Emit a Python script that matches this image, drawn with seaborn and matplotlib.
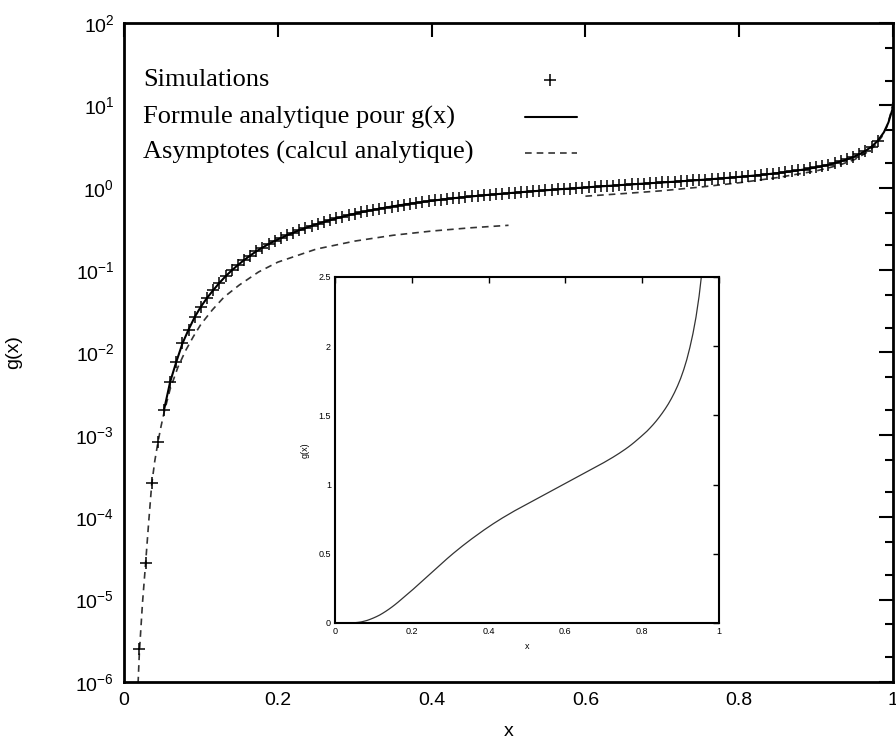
import numpy as np
import pandas as pd
import matplotlib
matplotlib.use("Agg")
import matplotlib.pyplot as plt
import seaborn as sns
from matplotlib.ticker import LogLocator, FixedLocator, NullFormatter

# ---------------- data ----------------
sim_x = [0.020, 0.028, 0.036, 0.044, 0.052, 0.060, 0.068, 0.076, 0.084, 0.092,
         0.100, 0.108, 0.116, 0.124, 0.132, 0.140, 0.148, 0.156, 0.164, 0.172,
         0.180, 0.188, 0.196, 0.204, 0.212, 0.220, 0.228, 0.236, 0.244, 0.252,
         0.260, 0.268, 0.276, 0.284, 0.292, 0.300, 0.308, 0.316, 0.324, 0.332,
         0.340, 0.348, 0.356, 0.364, 0.372, 0.380, 0.388, 0.396, 0.404, 0.412,
         0.420, 0.428, 0.436, 0.444, 0.452, 0.460, 0.468, 0.476, 0.484, 0.492,
         0.500, 0.508, 0.516, 0.524, 0.532, 0.540, 0.548, 0.556, 0.564, 0.572,
         0.580, 0.588, 0.596, 0.604, 0.612, 0.620, 0.628, 0.636, 0.644, 0.652,
         0.660, 0.668, 0.676, 0.684, 0.692, 0.700, 0.708, 0.716, 0.724, 0.732,
         0.740, 0.748, 0.756, 0.764, 0.772, 0.780, 0.788, 0.796, 0.804, 0.812,
         0.820, 0.828, 0.836, 0.844, 0.852, 0.860, 0.868, 0.876, 0.884, 0.892,
         0.900, 0.908, 0.916, 0.924, 0.932, 0.940, 0.948, 0.956, 0.964, 0.972,
         0.980]
sim_y = [2.5e-6, 2.8e-5, 2.6e-4, 8.2e-4, 2.0e-3, 4.4e-3, 7.7e-3, 1.29e-2, 1.9e-2, 2.7e-2,
         3.6e-2, 4.6e-2, 5.7e-2, 7.0e-2, 8.4e-2, 0.099, 0.115, 0.132, 0.150, 0.169,
         0.188, 0.207, 0.226, 0.245, 0.265, 0.285, 0.305, 0.325, 0.345, 0.365,
         0.385, 0.405, 0.425, 0.445, 0.465, 0.484, 0.503, 0.521, 0.539, 0.557,
         0.574, 0.591, 0.608, 0.624, 0.640, 0.656, 0.672, 0.687, 0.702, 0.717,
         0.731, 0.745, 0.759, 0.772, 0.785, 0.798, 0.811, 0.823, 0.835, 0.847,
         0.859, 0.871, 0.883, 0.895, 0.907, 0.919, 0.931, 0.943, 0.955, 0.967,
         0.979, 0.991, 1.003, 1.015, 1.027, 1.039, 1.051, 1.063, 1.075, 1.087,
         1.099, 1.111, 1.123, 1.135, 1.147, 1.159, 1.172, 1.185, 1.198, 1.212,
         1.226, 1.241, 1.256, 1.272, 1.289, 1.307, 1.326, 1.345, 1.365, 1.385,
         1.408, 1.432, 1.458, 1.486, 1.516, 1.548, 1.583, 1.622, 1.665, 1.713,
         1.767, 1.830, 1.903, 1.990, 2.090, 2.210, 2.360, 2.550, 2.800, 3.150,
         3.700]

# analytic formula: drawn from x ~ 0.05 on, continued up to x = 1
curve_start = 4
curve_tail_x = [0.988, 0.994, 1.000]
curve_tail_y = [4.7, 6.2, 9.5]

# asymptote for small x
asym1_x = [0.017, 0.020, 0.024, 0.028, 0.032, 0.036, 0.040, 0.044, 0.048, 0.052,
           0.060, 0.070, 0.080, 0.090, 0.100, 0.115, 0.130, 0.150, 0.175, 0.200,
           0.250, 0.300, 0.350, 0.400, 0.450, 0.500]
asym1_y = [5e-7, 2.3e-6, 9e-6, 2.7e-5, 8.5e-5, 2.5e-4, 4.8e-4, 8.0e-4, 1.25e-3, 1.85e-3,
           3.6e-3, 6.6e-3, 1.05e-2, 1.55e-2, 2.2e-2, 3.3e-2, 4.7e-2, 6.6e-2, 9.5e-2, 0.125,
           0.180, 0.225, 0.265, 0.298, 0.326, 0.350]

# asymptote for x close to 1
asym2_x = [0.600, 0.650, 0.700, 0.750, 0.800, 0.850, 0.900, 0.930, 0.950, 0.965,
           0.975, 0.985, 0.992, 0.997, 1.000]
asym2_y = [0.79, 0.85, 0.92, 1.02, 1.15, 1.33, 1.60, 1.88, 2.20, 2.65,
           3.15, 4.1, 5.5, 8.0, 11.0]

labels = ["Simulations", "Formule analytique pour g(x)", "Asymptotes (calcul analytique)"]
x_ticks = [0, 0.2, 0.4, 0.6, 0.8, 1.0]
x_ticklabels = ["0", "0.2", "0.4", "0.6", "0.8", "1"]
inset_y_ticks = [0, 0.5, 1.0, 1.5, 2.0, 2.5]
inset_y_ticklabels = ["0", "0.5", "1", "1.5", "2", "2.5"]

curve_x = sim_x[curve_start:] + curve_tail_x
curve_y = sim_y[curve_start:] + curve_tail_y
inset_x = sim_x + curve_tail_x
inset_y = sim_y + curve_tail_y

# ---------------- style ----------------
sns.set_theme(style="white")
plt.rcParams.update({
    "axes.edgecolor": "black",
    "axes.linewidth": 2.0,
    "xtick.color": "black",
    "ytick.color": "black",
    "text.color": "black",
    "axes.labelcolor": "black",
    "axes.unicode_minus": False,
})
plt.rcParams["font.family"] = ["Liberation Sans", "DejaVu Sans"]

fig = plt.figure(figsize=(8.96, 7.42), dpi=100)
ax = fig.add_axes([0.1384, 0.0809, 0.8583, 0.8881])
ax.set_yscale("log")

DASH = "#333333"
sns.lineplot(x=asym1_x, y=asym1_y, ax=ax, color=DASH, lw=1.2,
             linestyle=(0, (4, 3)), sort=False, estimator=None)
sns.lineplot(x=asym2_x, y=asym2_y, ax=ax, color=DASH, lw=1.2,
             linestyle=(0, (4, 3)), sort=False, estimator=None)
sns.lineplot(x=curve_x, y=curve_y, ax=ax, color="black", lw=1.5,
             sort=False, estimator=None)
sns.scatterplot(x=sim_x, y=sim_y, ax=ax, marker="+", s=70, color="black",
                linewidth=1.1, zorder=3)

ax.set_xlim(0, 1)
ax.set_ylim(1e-6, 1e2)
ax.xaxis.set_major_locator(FixedLocator(x_ticks))
ax.set_xticklabels(x_ticklabels)
ax.yaxis.set_major_locator(LogLocator(base=10, numticks=20))
ax.yaxis.set_minor_locator(LogLocator(base=10, subs=(2.0, 5.0), numticks=20))
ax.yaxis.set_minor_formatter(NullFormatter())
ax.tick_params(which="both", direction="in", top=True, right=True,
               labelsize=14, width=1.5, pad=7)
ax.tick_params(which="major", length=10)
ax.tick_params(which="minor", length=6)

ax.set_xlabel("x", fontsize=14)
ax.set_ylabel("g(x)", fontsize=14)
ax.xaxis.set_label_coords(0.5, -0.062)
ax.yaxis.set_label_coords(-0.133, 0.5)

# legend drawn as text + samples (gnuplot style, labels left / samples right)
leg_y = [0.9135, 0.857, 0.803]
for lab, yy in zip(labels, leg_y):
    ax.text(0.0247, yy, lab, transform=ax.transAxes, fontsize=19,
            family=["Liberation Serif", "DejaVu Serif"], va="center", ha="left")
ax.plot([0.554], [leg_y[0]], transform=ax.transAxes, marker="+", ms=8,
        mew=1.1, color="black", ls="none")
ax.plot([0.521, 0.589], [leg_y[1], leg_y[1]], transform=ax.transAxes,
        color="black", lw=1.5)
ax.plot([0.521, 0.589], [leg_y[2], leg_y[2]], transform=ax.transAxes,
        color=DASH, lw=1.2, linestyle=(0, (4, 3)))

# ---------------- inset ----------------
axi = fig.add_axes([0.3739, 0.1604, 0.4286, 0.4663])
axi.set_facecolor("white")
for s in axi.spines.values():
    s.set_linewidth(1.5)
sns.lineplot(x=inset_x, y=inset_y, ax=axi, color="#333333", lw=0.9,
             sort=False, estimator=None)
axi.set_xlim(0, 1)
axi.set_ylim(0, 2.5)
axi.xaxis.set_major_locator(FixedLocator(x_ticks))
axi.set_xticklabels(x_ticklabels)
axi.yaxis.set_major_locator(FixedLocator(inset_y_ticks))
axi.set_yticklabels(inset_y_ticklabels)
axi.tick_params(which="both", direction="in", top=True, right=True,
                labelsize=6.5, length=4, width=1.0, pad=3)
axi.set_xlabel("x", fontsize=6.5, labelpad=4)
axi.set_ylabel("g(x)", fontsize=6.5, labelpad=6)

fig.savefig("out.png", dpi=100)
